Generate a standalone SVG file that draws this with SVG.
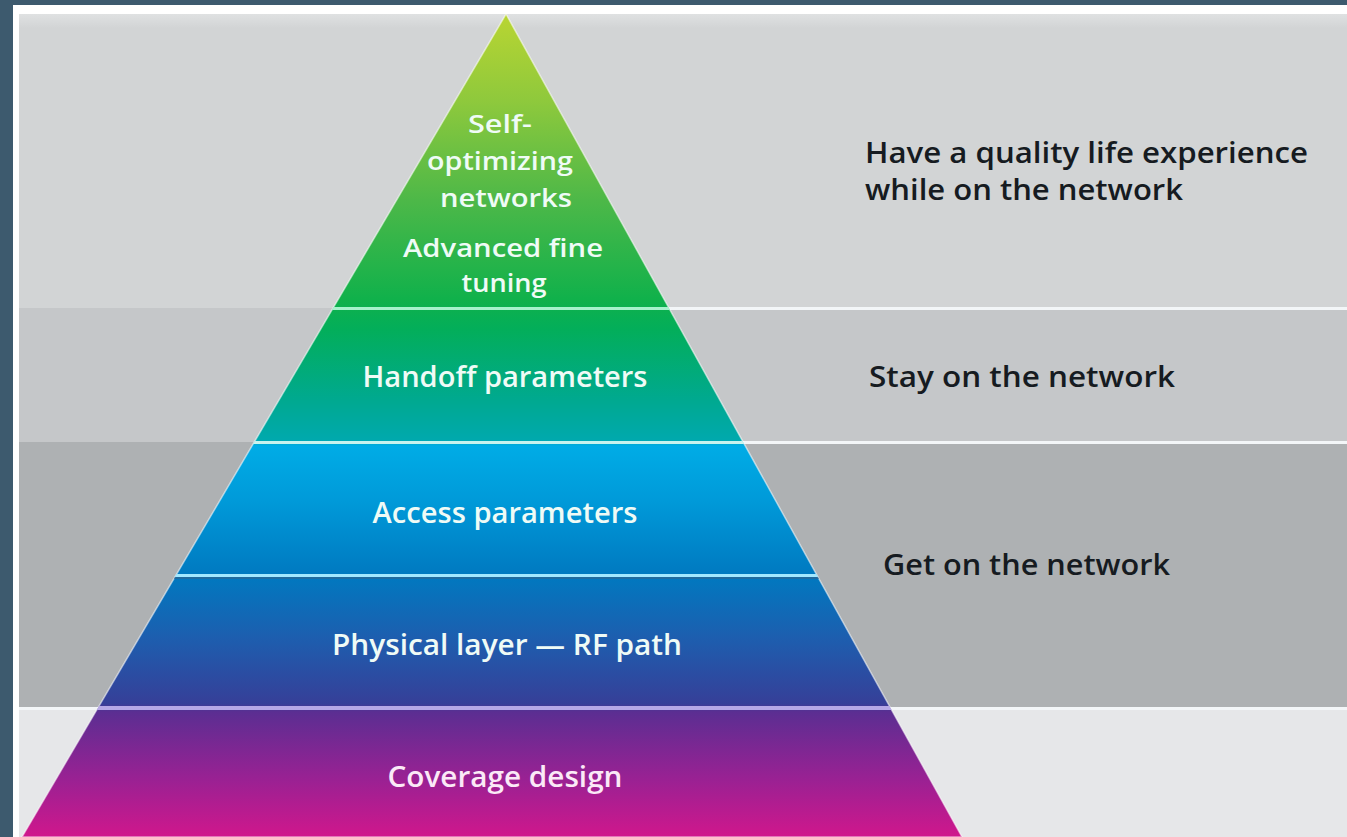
<svg xmlns="http://www.w3.org/2000/svg" width="1347" height="837" viewBox="0 0 1347 837">
  <style>
    .tier { font-family: "Open Sans", "Liberation Sans", sans-serif; font-size: 29px; font-weight: 600; fill: #effbf6; text-anchor: middle; }
    .tier-sm { font-size: 26px; }
    .goal { font-family: "Open Sans", "Liberation Sans", sans-serif; font-size: 28px; font-weight: 600; fill: #161b21; }
    .sep { fill: #f3f6f8; }
  </style>
  <defs>
    <linearGradient id="pyramidFill" gradientUnits="userSpaceOnUse" x1="0" y1="14" x2="0" y2="837">
      <stop offset="0" stop-color="#b9d532"/>
      <stop offset="0.1045" stop-color="#8fc93c"/>
      <stop offset="0.226" stop-color="#4db848"/>
      <stop offset="0.347" stop-color="#10b14b"/>
      <stop offset="0.383" stop-color="#03ae5a"/>
      <stop offset="0.468" stop-color="#00a98f"/>
      <stop offset="0.517" stop-color="#00a9ad"/>
      <stop offset="0.525" stop-color="#00ace6"/>
      <stop offset="0.591" stop-color="#009ad9"/>
      <stop offset="0.682" stop-color="#0079c0"/>
      <stop offset="0.761" stop-color="#1e5dae"/>
      <stop offset="0.838" stop-color="#363f98"/>
      <stop offset="0.848" stop-color="#5b2e92"/>
      <stop offset="0.93" stop-color="#9a2193"/>
      <stop offset="1" stop-color="#d0178c"/>
    </linearGradient>
    <linearGradient id="topFade" x1="0" y1="0" x2="0" y2="1">
      <stop offset="0" stop-color="#dfe1e2"/>
      <stop offset="1" stop-color="#d2d4d5"/>
    </linearGradient>
    <clipPath id="pyramidClip">
      <polygon points="506,14 962,837 22,837"/>
    </clipPath>
  </defs>

  <!-- frame -->
  <rect x="0" y="0" width="1347" height="837" fill="#3d5a6e"/>
  <rect x="13" y="5" width="1334" height="832" fill="#ffffff"/>

  <!-- background bands -->
  <g id="bands">
    <rect x="19" y="14" width="1328" height="294" fill="#d2d4d5"/>
    <rect x="19" y="14" width="1328" height="14" fill="url(#topFade)"/>
    <rect x="19" y="308" width="1328" height="134" fill="#c5c7c9"/>
    <rect x="19" y="442" width="1328" height="266" fill="#aeb1b3"/>
    <rect x="19" y="708" width="1328" height="129" fill="#e6e7e9"/>
    <rect class="sep" x="420" y="307" width="927" height="3"/>
    <rect class="sep" x="420" y="441" width="927" height="3"/>
    <rect class="sep" x="19" y="707" width="1328" height="3"/>
  </g>

  <!-- pyramid -->
  <g id="pyramid">
    <polygon points="506,14 962,837 22,837" fill="url(#pyramidFill)" stroke="#ffffff" stroke-opacity="0.55" stroke-width="1.5"/>
    <g clip-path="url(#pyramidClip)">
      <rect x="0" y="307" width="1347" height="3" fill="#a6f2cc"/>
      <rect x="0" y="441" width="1347" height="3" fill="#c9f3ee"/>
      <rect x="0" y="574" width="1347" height="3" fill="#a2e8ff"/>
      <rect x="0" y="577" width="1347" height="2" fill="#2d6592" fill-opacity="0.7"/>
      <rect x="0" y="706" width="1347" height="4" fill="#b6a8e6"/>
    </g>
  </g>

  <!-- tier labels -->
  <g id="tier-top">
    <text class="tier tier-sm" x="500" y="133" textLength="64" lengthAdjust="spacingAndGlyphs">Self-</text>
    <text class="tier tier-sm" x="500" y="170" textLength="146" lengthAdjust="spacingAndGlyphs">optimizing</text>
    <text class="tier tier-sm" x="506" y="207" textLength="132" lengthAdjust="spacingAndGlyphs">networks</text>
    <text class="tier tier-sm" x="503" y="257" textLength="200" lengthAdjust="spacingAndGlyphs">Advanced fine</text>
    <text class="tier tier-sm" x="504" y="292" textLength="85" lengthAdjust="spacingAndGlyphs">tuning</text>
  </g>
  <g id="tier-handoff">
    <text class="tier" x="505" y="387" textLength="285" lengthAdjust="spacingAndGlyphs">Handoff parameters</text>
  </g>
  <g id="tier-access">
    <text class="tier" x="505" y="523" textLength="265" lengthAdjust="spacingAndGlyphs">Access parameters</text>
  </g>
  <g id="tier-physical">
    <text class="tier" x="507" y="655" textLength="350" lengthAdjust="spacingAndGlyphs">Physical layer — RF path</text>
  </g>
  <g id="tier-coverage">
    <text class="tier" x="505" y="787" textLength="235" lengthAdjust="spacingAndGlyphs" style="fill:#fbe9f7">Coverage design</text>
  </g>

  <!-- goal labels -->
  <g id="goal-quality">
    <text class="goal" x="865" y="163" textLength="443" lengthAdjust="spacingAndGlyphs">Have a quality life experience</text>
    <text class="goal" x="865" y="200" textLength="318" lengthAdjust="spacingAndGlyphs">while on the network</text>
  </g>
  <g id="goal-stay">
    <text class="goal" x="869" y="387" textLength="306" lengthAdjust="spacingAndGlyphs">Stay on the network</text>
  </g>
  <g id="goal-get">
    <text class="goal" x="883" y="575" textLength="287" lengthAdjust="spacingAndGlyphs">Get on the network</text>
  </g>
</svg>
